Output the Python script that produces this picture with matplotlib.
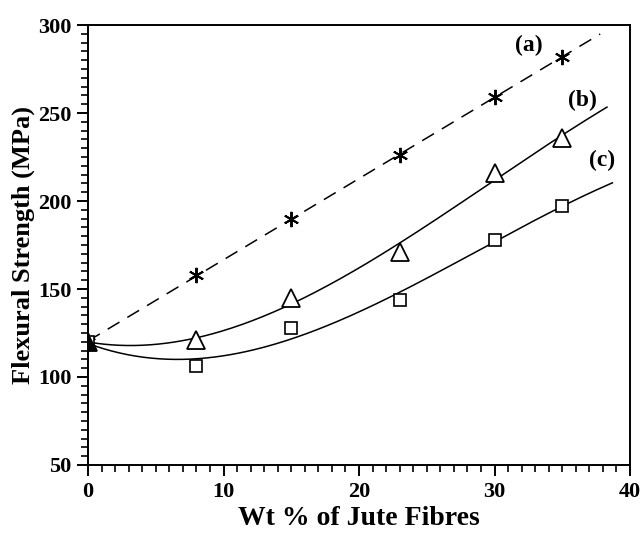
import numpy as np
import matplotlib
matplotlib.use("Agg")
from matplotlib import pyplot as plt
from matplotlib.ticker import MultipleLocator

# data
wt = [0, 8, 15, 23, 30, 35]
strength_a = [120, 158, 190, 226, 259, 282]
strength_b = [120, 121, 145, 171, 216, 236]
strength_c = [120, 106, 128, 144, 178, 197]
x_end = [37.8, 38.3, 38.7]

plt.rcParams['font.family'] = ['Liberation Serif', 'DejaVu Serif']
plt.rcParams['font.weight'] = 'bold'

fig = plt.figure(figsize=(6.43, 5.38), dpi=100)
ax = fig.add_axes([0.1369, 0.1357, 0.8429, 0.8178])

#fitted trend lines
fits = [np.polyfit(wt, strength_a, 1), np.polyfit(wt, strength_b, 3), np.polyfit(wt, strength_c, 3)]
styles = [(0, (9, 6)), '-', '-']
for fit, xe, ls in zip(fits, x_end, styles):
    xs = np.linspace(0, xe, 200)
    ax.plot(xs, np.polyval(fit, xs), color='black', lw=1.1, linestyle=ls)

ax.plot(wt, strength_a, linestyle='none', marker=(6, 2, 0), ms=11, mew=1.4, color='black')
ax.plot(wt, strength_b, linestyle='none', marker='^', ms=13, mew=1.3, mfc='white', mec='black')
ax.plot(wt, strength_c, linestyle='none', marker='s', ms=8, mew=1.2, mfc='white', mec='black')
ax.plot([0], [120], linestyle='none', marker='^', ms=12, color='black')

ax.text(31.5, 285, '(a)', fontsize=17, fontweight='bold')
ax.text(35.4, 254, '(b)', fontsize=17, fontweight='bold')
ax.text(37.0, 220, '(c)', fontsize=17, fontweight='bold')

ax.set_xlim(0, 40)
ax.set_ylim(50, 300)
ax.xaxis.set_major_locator(MultipleLocator(10))
ax.xaxis.set_minor_locator(MultipleLocator(1))
ax.yaxis.set_major_locator(MultipleLocator(50))
ax.yaxis.set_minor_locator(MultipleLocator(5))
ax.tick_params(which='major', direction='out', length=8, width=1.4, labelsize=16, pad=4)
ax.tick_params(which='minor', direction='out', length=5, width=1.2)
for sp in ax.spines.values():
    sp.set_linewidth(1.4)

ax.set_xlabel('Wt % of Jute Fibres', fontsize=20, fontweight='bold', labelpad=3)
ax.set_ylabel('Flexural Strength (MPa)', fontsize=19, fontweight='bold', labelpad=2)

fig.savefig('out.png', dpi=100)
